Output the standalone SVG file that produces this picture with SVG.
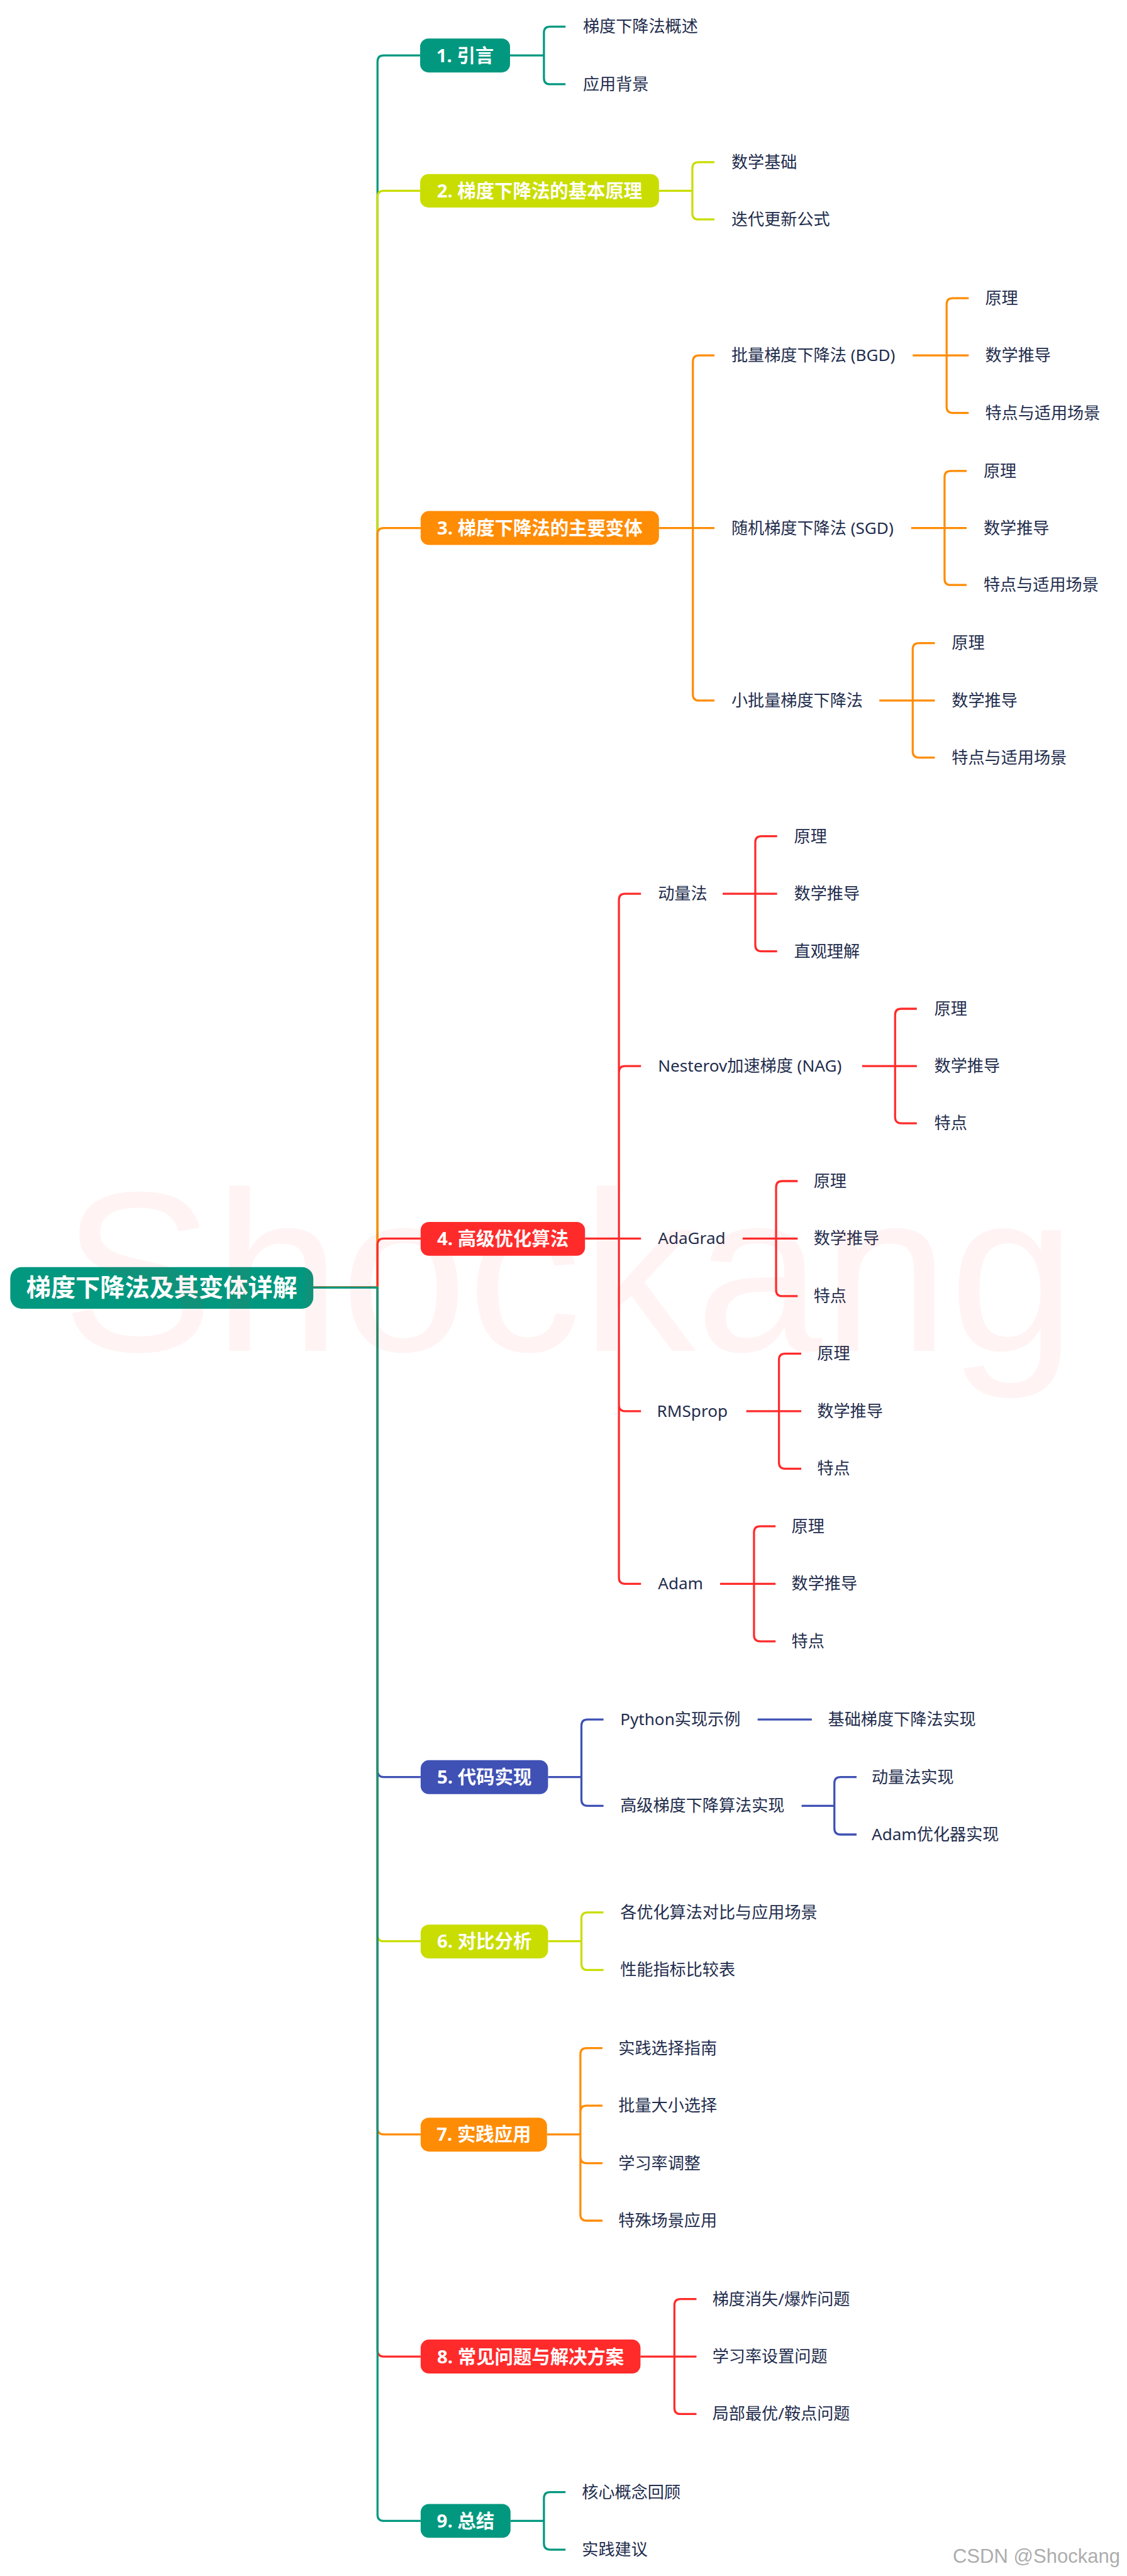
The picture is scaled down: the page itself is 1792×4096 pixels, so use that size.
<svg xmlns="http://www.w3.org/2000/svg" width="1792" height="4096" viewBox="0 0 1792 4096">
<style>
.t{font-family:'Noto Sans','Noto Sans CJK SC',sans-serif;font-size:32px;fill:#1F2D4D}
.n{font-family:'Noto Sans','Noto Sans CJK SC',sans-serif;font-size:36px;font-weight:700;fill:#ffffff;text-anchor:middle}
.rt{font-family:'Noto Sans','Noto Sans CJK SC',sans-serif;font-size:48px;font-weight:700;fill:#ffffff;text-anchor:middle}
.c{fill:none;stroke-width:4}
.teal{stroke:#02987F}.yg{stroke:#C9DD00}.or{stroke:#FF8C05}.red{stroke:#FF2B2B}.blue{stroke:#3F51B5}
.fteal{fill:#02987F}.fyg{fill:#C9DD00}.for{fill:#FF8C05}.fred{fill:#FF2B2B}.fblue{fill:#3F51B5}
</style>
<rect width="1792" height="4096" fill="#ffffff"/>
<g transform="scale(0.8167)">
<g id="connectors">
<path class="c teal" d="M610 2507H735V120Q735 108 747 108H818"/>
<path class="c yg" d="M610 2507H735V383.5Q735 371.5 747 371.5H818"/>
<path class="c or" d="M610 2507H735V1040Q735 1028 747 1028H819"/>
<path class="c red" d="M610 2507H735V2423.5Q735 2411.5 747 2411.5H819"/>
<path class="c blue" d="M610 2507H735V3447.7Q735 3459.7 747 3459.7H819"/>
<path class="c yg" d="M610 2507H735V3767.5Q735 3779.5 747 3779.5H819"/>
<path class="c or" d="M610 2507H735V4143.5Q735 4155.5 747 4155.5H819"/>
<path class="c red" d="M610 2507H735V4576Q735 4588 747 4588H819"/>
<path class="c teal" d="M610 2507H735V4896Q735 4908 747 4908H819"/>

<path class="c teal" d="M993 108H1059V64Q1059 52 1071 52H1101M993 108H1059V152Q1059 164 1071 164H1101"/>
<path class="c yg" d="M1283 371.5H1348V327.7Q1348 315.7 1360 315.7H1391M1283 371.5H1348V415.3Q1348 427.3 1360 427.3H1391"/>

<path class="c or" d="M1283 1028H1349V704Q1349 692 1361 692H1391M1283 1028H1391M1283 1028H1349V1352Q1349 1364 1361 1364H1391"/>
<path class="c or" d="M1777 692H1843V592.6Q1843 580.6 1855 580.6H1886M1777 692H1886M1777 692H1843V792Q1843 804 1855 804H1886"/>
<path class="c or" d="M1774 1028H1839V929Q1839 917 1851 917H1882M1774 1028H1882M1774 1028H1839V1127Q1839 1139 1851 1139H1882"/>
<path class="c or" d="M1712 1364H1777V1264Q1777 1252 1789 1252H1820M1712 1364H1820M1712 1364H1777V1463Q1777 1475 1789 1475H1820"/>

<path class="c red" d="M1139 2411.5H1205V1752Q1205 1740 1217 1740H1248M1139 2411.5H1205V2087.6Q1205 2075.6 1217 2075.6H1248M1139 2411.5H1248M1139 2411.5H1205V2735.5Q1205 2747.5 1217 2747.5H1248M1139 2411.5H1205V3071.5Q1205 3083.5 1217 3083.5H1248"/>
<path class="c red" d="M1407 1740H1470.5V1640Q1470.5 1628 1482.5 1628H1513M1407 1740H1513M1407 1740H1470.5V1840Q1470.5 1852 1482.5 1852H1513"/>
<path class="c red" d="M1678.5 2075.6H1742.7V1976Q1742.7 1964 1754.7 1964H1785M1678.5 2075.6H1785M1678.5 2075.6H1742.7V2175Q1742.7 2187 1754.7 2187H1785"/>
<path class="c red" d="M1446 2411.5H1511V2311.5Q1511 2299.5 1523 2299.5H1553M1446 2411.5H1553M1446 2411.5H1511V2511.5Q1511 2523.5 1523 2523.5H1553"/>
<path class="c red" d="M1453 2747.5H1516.6V2647.5Q1516.6 2635.5 1528.6 2635.5H1560M1453 2747.5H1560M1453 2747.5H1516.6V2847.5Q1516.6 2859.5 1528.6 2859.5H1560"/>
<path class="c red" d="M1402 3083.5H1468V2983.5Q1468 2971.5 1480 2971.5H1510M1402 3083.5H1510M1402 3083.5H1468V3183.5Q1468 3195.5 1480 3195.5H1510"/>

<path class="c blue" d="M1067 3459.7H1132V3359.7Q1132 3347.7 1144 3347.7H1175M1067 3459.7H1132V3503.7Q1132 3515.7 1144 3515.7H1175"/>
<path class="c blue" d="M1475 3347.7H1580.6"/>
<path class="c blue" d="M1560.7 3515.7H1624.5V3471.7Q1624.5 3459.7 1636.5 3459.7H1667.7M1560.7 3515.7H1624.5V3559.7Q1624.5 3571.7 1636.5 3571.7H1667.7"/>

<path class="c yg" d="M1067 3779.5H1132V3735.5Q1132 3723.5 1144 3723.5H1175M1067 3779.5H1132V3823.5Q1132 3835.5 1144 3835.5H1175"/>
<path class="c or" d="M1065 4155.5H1130V3999.5Q1130 3987.5 1142 3987.5H1173M1065 4155.5H1130V4111.5Q1130 4099.5 1142 4099.5H1173M1065 4155.5H1130V4199.5Q1130 4211.5 1142 4211.5H1173M1065 4155.5H1130V4311.5Q1130 4323.5 1142 4323.5H1173"/>
<path class="c red" d="M1247 4588H1313V4488Q1313 4476 1325 4476H1356M1247 4588H1356M1247 4588H1313V4688Q1313 4700 1325 4700H1356"/>
<path class="c teal" d="M994 4908H1059V4864Q1059 4852 1071 4852H1101M994 4908H1059V4952Q1059 4964 1071 4964H1101"/>
</g>

<g id="root"><rect class="fteal" x="20" y="2467" width="590" height="81" rx="22"/><text class="rt" x="315" y="2524">梯度下降法及其变体详解</text></g>

<g id="b1"><rect class="fteal" x="818" y="75" width="175" height="66" rx="16"/><text class="n" x="905.5" y="121">1. 引言</text></g>
<g id="b1-1"><text class="t" x="1135" y="63">梯度下降法概述</text></g>
<g id="b1-2"><text class="t" x="1135" y="175">应用背景</text></g>

<g id="b2"><rect class="fyg" x="818" y="339" width="465" height="65" rx="16"/><text class="n" x="1050.5" y="384.5">2. 梯度下降法的基本原理</text></g>
<g id="b2-1"><text class="t" x="1424" y="326.7">数学基础</text></g>
<g id="b2-2"><text class="t" x="1424" y="438.3">迭代更新公式</text></g>

<g id="b3"><rect class="for" x="819" y="995" width="464" height="66" rx="16"/><text class="n" x="1051" y="1041">3. 梯度下降法的主要变体</text></g>
<g id="b3-1"><text class="t" x="1424" y="703">批量梯度下降法 (BGD)</text></g>
<g id="b3-1-1"><text class="t" x="1918" y="591.6">原理</text></g>
<g id="b3-1-2"><text class="t" x="1918" y="703">数学推导</text></g>
<g id="b3-1-3"><text class="t" x="1918" y="815">特点与适用场景</text></g>
<g id="b3-2"><text class="t" x="1424" y="1039">随机梯度下降法 (SGD)</text></g>
<g id="b3-2-1"><text class="t" x="1915" y="928">原理</text></g>
<g id="b3-2-2"><text class="t" x="1915" y="1039">数学推导</text></g>
<g id="b3-2-3"><text class="t" x="1915" y="1150">特点与适用场景</text></g>
<g id="b3-3"><text class="t" x="1424" y="1375">小批量梯度下降法</text></g>
<g id="b3-3-1"><text class="t" x="1853" y="1263">原理</text></g>
<g id="b3-3-2"><text class="t" x="1853" y="1375">数学推导</text></g>
<g id="b3-3-3"><text class="t" x="1853" y="1486">特点与适用场景</text></g>

<g id="b4"><rect class="fred" x="819" y="2379" width="320" height="66" rx="16"/><text class="n" x="979" y="2424.5">4. 高级优化算法</text></g>
<g id="b4-1"><text class="t" x="1281" y="1751">动量法</text></g>
<g id="b4-1-1"><text class="t" x="1546" y="1639">原理</text></g>
<g id="b4-1-2"><text class="t" x="1546" y="1751">数学推导</text></g>
<g id="b4-1-3"><text class="t" x="1546" y="1863">直观理解</text></g>
<g id="b4-2"><text class="t" x="1281" y="2086.6">Nesterov加速梯度 (NAG)</text></g>
<g id="b4-2-1"><text class="t" x="1819" y="1975">原理</text></g>
<g id="b4-2-2"><text class="t" x="1819" y="2086.6">数学推导</text></g>
<g id="b4-2-3"><text class="t" x="1819" y="2198">特点</text></g>
<g id="b4-3"><text class="t" x="1281" y="2422.5">AdaGrad</text></g>
<g id="b4-3-1"><text class="t" x="1584" y="2310.5">原理</text></g>
<g id="b4-3-2"><text class="t" x="1584" y="2422.5">数学推导</text></g>
<g id="b4-3-3"><text class="t" x="1584" y="2534.5">特点</text></g>
<g id="b4-4"><text class="t" x="1279" y="2758.5">RMSprop</text></g>
<g id="b4-4-1"><text class="t" x="1591" y="2646.5">原理</text></g>
<g id="b4-4-2"><text class="t" x="1591" y="2758.5">数学推导</text></g>
<g id="b4-4-3"><text class="t" x="1591" y="2870.5">特点</text></g>
<g id="b4-5"><text class="t" x="1281" y="3094.5">Adam</text></g>
<g id="b4-5-1"><text class="t" x="1541" y="2982.5">原理</text></g>
<g id="b4-5-2"><text class="t" x="1541" y="3094.5">数学推导</text></g>
<g id="b4-5-3"><text class="t" x="1541" y="3206.5">特点</text></g>

<g id="b5"><rect class="fblue" x="819" y="3427" width="248" height="66" rx="16"/><text class="n" x="943" y="3472.7">5. 代码实现</text></g>
<g id="b5-1"><text class="t" x="1207.5" y="3358.7">Python实现示例</text></g>
<g id="b5-1-1"><text class="t" x="1612" y="3358.7">基础梯度下降法实现</text></g>
<g id="b5-2"><text class="t" x="1207.5" y="3526.7">高级梯度下降算法实现</text></g>
<g id="b5-2-1"><text class="t" x="1697" y="3470.7">动量法实现</text></g>
<g id="b5-2-2"><text class="t" x="1697" y="3582.7">Adam优化器实现</text></g>

<g id="b6"><rect class="fyg" x="819" y="3747" width="248" height="66" rx="16"/><text class="n" x="943" y="3792.5">6. 对比分析</text></g>
<g id="b6-1"><text class="t" x="1207.5" y="3734.5">各优化算法对比与应用场景</text></g>
<g id="b6-2"><text class="t" x="1207.5" y="3846.5">性能指标比较表</text></g>

<g id="b7"><rect class="for" x="819" y="4123" width="246" height="66" rx="16"/><text class="n" x="942" y="4168.5">7. 实践应用</text></g>
<g id="b7-1"><text class="t" x="1204" y="3998.5">实践选择指南</text></g>
<g id="b7-2"><text class="t" x="1204" y="4110.5">批量大小选择</text></g>
<g id="b7-3"><text class="t" x="1204" y="4222.5">学习率调整</text></g>
<g id="b7-4"><text class="t" x="1204" y="4334.5">特殊场景应用</text></g>

<g id="b8"><rect class="fred" x="819" y="4555" width="428" height="66" rx="16"/><text class="n" x="1033" y="4601">8. 常见问题与解决方案</text></g>
<g id="b8-1"><text class="t" x="1387" y="4487">梯度消失/爆炸问题</text></g>
<g id="b8-2"><text class="t" x="1387" y="4599">学习率设置问题</text></g>
<g id="b8-3"><text class="t" x="1387" y="4711">局部最优/鞍点问题</text></g>

<g id="b9"><rect class="fteal" x="819" y="4875" width="175" height="66" rx="16"/><text class="n" x="906.5" y="4921">9. 总结</text></g>
<g id="b9-1"><text class="t" x="1133" y="4863">核心概念回顾</text></g>
<g id="b9-2"><text class="t" x="1133" y="4975">实践建议</text></g>

<text x="120" y="2630" font-family="'Liberation Sans',Arial,sans-serif" font-size="444" fill="#FF3B30" fill-opacity="0.06">Shockang</text>
<text x="1855" y="4990" font-family="'Liberation Sans',Arial,sans-serif" font-size="38" fill="#ADADAD">CSDN @Shockang</text>
</g>
</svg>
